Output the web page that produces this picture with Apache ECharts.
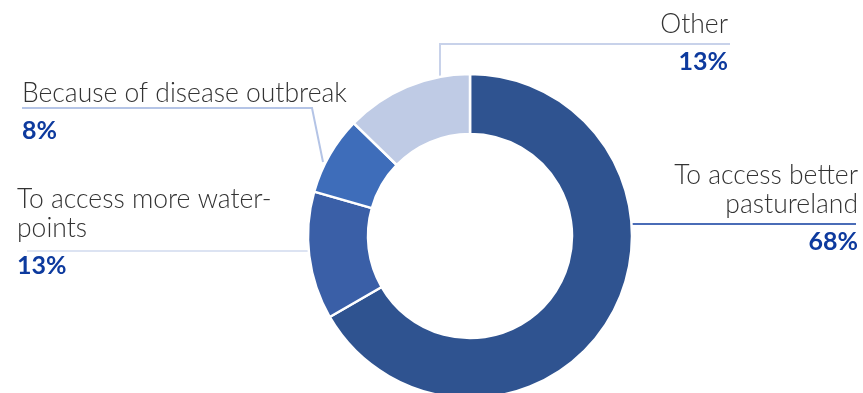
<!DOCTYPE html>
<html>
<head>
<meta charset="utf-8">
<script src="https://cdn.jsdelivr.net/npm/echarts@6/dist/echarts.min.js"></script>
<style>
  html, body { margin: 0; padding: 0; background: #fff; }
  #chart { width: 863px; height: 393px; }
</style>
</head>
<body>
<div id="chart"></div>
<script>
// Reasons for moving, share of respondents (%), clockwise from the top
const categories = [
  'To access better\npastureland',
  'To access more water-\npoints',
  'Because of disease outbreak',
  'Other'
];
const shares = [68, 13, 8, 13];
const sliceColors = ['#2F5390', '#3A5FA7', '#3E6DBA', '#BFCBE5'];
const leaderColors = ['#4A6CB7', '#DCE3F2', '#B4C4E6', '#C8D2EA'];

// Ring geometry
const CX = 470, CY = 236, R_IN = 102, R_OUT = 162;

// Label placement: text anchor, horizontal leader row and where the leader meets the ring
const labelPlacement = [
  { x: 858, top: 161, align: 'right', lineY: 224, lineEnd: 856, anchor: { dx: 161.5, dy: -12 } },
  { x: 17,  top: 185, align: 'left',  lineY: 251, lineEnd: 27,  anchor: { dx: -161.3, dy: 15 } },
  { x: 22,  top: 79,  align: 'left',  lineY: 108, lineEnd: 22,  anchor: { dx: -147, dy: -74 }, bendX: 312 },
  { x: 728, top: 10,  align: 'right', lineY: 44,  lineEnd: 730, anchor: { dx: -30, dy: -121 } }
];

const chart = echarts.init(document.getElementById('chart'), null, { renderer: 'canvas' });

function labelText(name, value) {
  const lines = name.split('\n').map(l => '{n|' + l + '}');
  return lines.join('\n') + '\n{v|' + value + '%}';
}

chart.setOption({
  animation: false,
  backgroundColor: '#ffffff',
  series: [{
    type: 'pie',
    center: [CX, CY],
    radius: [R_IN, R_OUT],
    startAngle: 90,
    clockwise: true,
    avoidLabelOverlap: false,
    itemStyle: { borderColor: '#ffffff', borderWidth: 2.5 },
    label: {
      show: true,
      position: 'outside',
      formatter: p => labelText(p.name, p.value),
      rich: {
        n: { fontFamily: 'Lato', fontWeight: 300, fontSize: 26.5, lineHeight: 29, color: '#333333' },
        v: { fontFamily: 'Lato', fontWeight: 'bold', fontSize: 25, lineHeight: 46, color: '#0D3A9E' }
      }
    },
    labelLine: { show: true, length: 10, length2: 10, smooth: false, lineStyle: { width: 2 } },
    labelLayout: function (params) {
      const L = labelPlacement[params.dataIndex];
      const a = [CX + L.anchor.dx, CY + L.anchor.dy];
      let mid;
      if (L.bendX != null) {
        // slanted leader rising to the text row
        mid = [L.bendX, L.lineY];
      } else if (params.dataIndex === 3) {
        // vertical leader up from inside the slice
        mid = [a[0], L.lineY];
      } else {
        // leader runs straight out from the ring edge
        a[1] = L.lineY;
        mid = a.slice();
      }
      return {
        x: L.x,
        y: L.top,
        align: L.align,
        verticalAlign: 'top',
        labelLinePoints: [a, mid, [L.lineEnd, L.lineY]]
      };
    },
    data: categories.map((name, i) => ({
      name: name,
      value: shares[i],
      itemStyle: { color: sliceColors[i] },
      labelLine: { lineStyle: { color: leaderColors[i], width: 2 } }
    }))
  }]
});
</script>
</body>
</html>
